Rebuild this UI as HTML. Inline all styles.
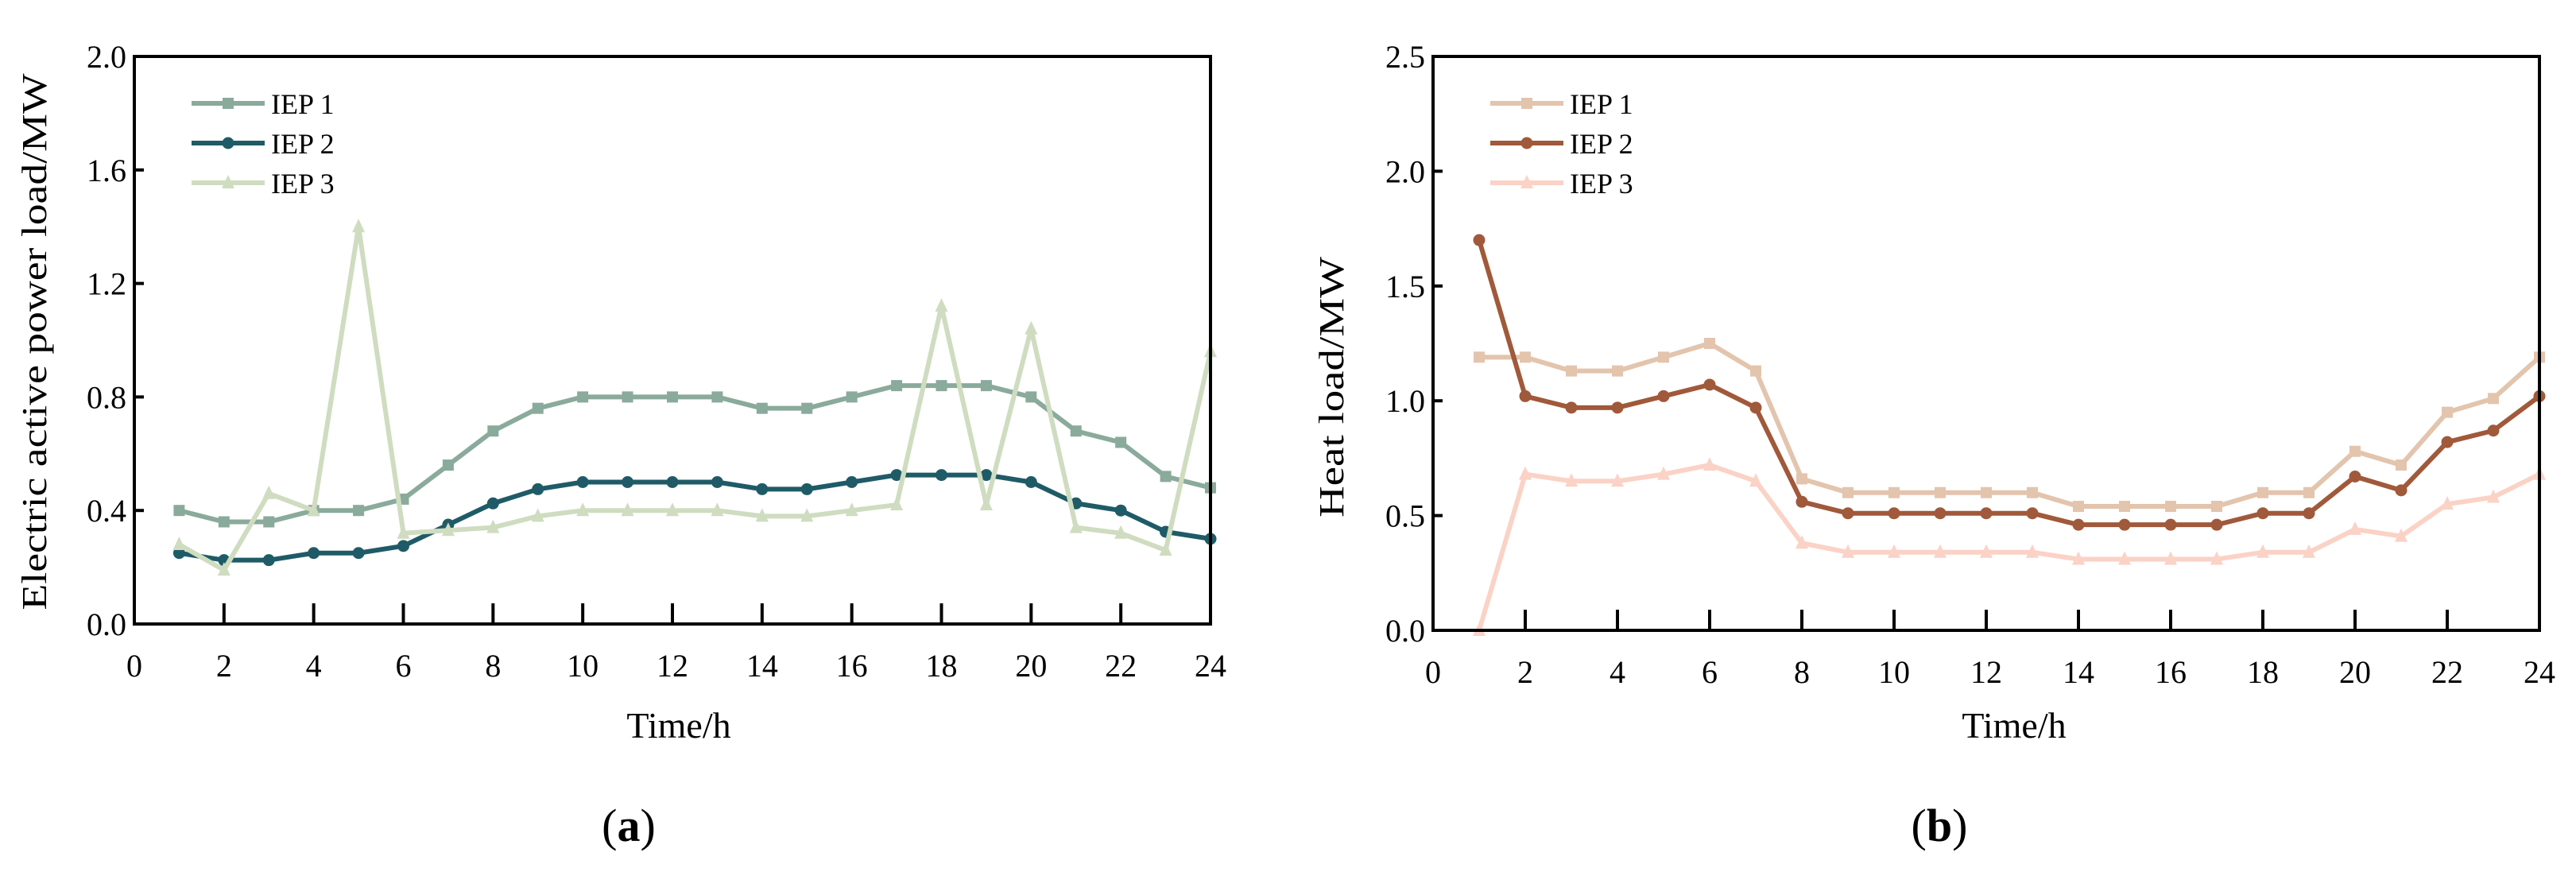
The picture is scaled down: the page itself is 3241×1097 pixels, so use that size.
<!DOCTYPE html>
<html><head><meta charset="utf-8"><style>
html,body{margin:0;padding:0;background:#fff;}
svg{display:block;font-family:"Liberation Serif",serif;}
</style></head><body>
<svg id="fig" width="3241" height="1097" viewBox="0 0 3241 1097"></svg>
<script>
const hours = [1,2,3,4,5,6,7,8,9,10,11,12,13,14,15,16,17,18,19,20,21,22,23,24];
const xTicks = [0,2,4,6,8,10,12,14,16,18,20,22,24];
const elecTicks = ["0.0","0.4","0.8","1.2","1.6","2.0"];
const heatTicks = ["0.0","0.5","1.0","1.5","2.0","2.5"];
const elecIEP1 = [0.40,0.36,0.36,0.40,0.40,0.44,0.56,0.68,0.76,0.80,0.80,0.80,0.80,0.76,0.76,0.80,0.84,0.84,0.84,0.80,0.68,0.64,0.52,0.48];
const elecIEP2 = [0.25,0.225,0.225,0.25,0.25,0.275,0.35,0.425,0.475,0.50,0.50,0.50,0.50,0.475,0.475,0.50,0.525,0.525,0.525,0.50,0.425,0.40,0.325,0.30];
const elecIEP3 = [0.28,0.19,0.46,0.40,1.40,0.32,0.33,0.34,0.38,0.40,0.40,0.40,0.40,0.38,0.38,0.40,0.42,1.12,0.42,1.04,0.34,0.32,0.26,0.96];
const heatIEP1 = [1.19,1.19,1.13,1.13,1.19,1.25,1.13,0.66,0.60,0.60,0.60,0.60,0.60,0.54,0.54,0.54,0.54,0.60,0.60,0.78,0.72,0.95,1.01,1.19];
const heatIEP2 = [1.70,1.02,0.97,0.97,1.02,1.07,0.97,0.56,0.51,0.51,0.51,0.51,0.51,0.46,0.46,0.46,0.46,0.51,0.51,0.67,0.61,0.82,0.87,1.02];
const heatIEP3 = [0.00,0.68,0.65,0.65,0.68,0.72,0.65,0.38,0.34,0.34,0.34,0.34,0.34,0.31,0.31,0.31,0.31,0.34,0.34,0.44,0.41,0.55,0.58,0.68];
const seriesNames = ["IEP 1","IEP 2","IEP 3"];

const NS = "http://www.w3.org/2000/svg";
const svg = document.getElementById("fig");
function mk(tag, attrs, parent, text){
  const e = document.createElementNS(NS, tag);
  for (const k in attrs) e.setAttribute(k, attrs[k]);
  if (text !== undefined) e.textContent = text;
  (parent||svg).appendChild(e);
  return e;
}
function marker(g, type, x, y, color){
  let m;
  if (type === "square") m = mk("rect", {x:x-7, y:y-7, width:14, height:14, fill:color}, g);
  else if (type === "circle") m = mk("circle", {cx:x, cy:y, r:7.5, fill:color}, g);
  else m = mk("polygon", {points:`${x},${y-10} ${x-8},${y+7} ${x+8},${y+7}`, fill:color}, g);
  return m;
}
function chart(cfg){
  const g = mk("g", {});
  
  
  const L=cfg.L, R=cfg.R, T=cfg.T, B=cfg.B, ymax=cfg.ymax;
  const sx = v => L + (v/24)*(R-L);
  const sy = v => B - (v/ymax)*(B-T);
  // series
  cfg.series.forEach((s, i) => {
    const sg = mk("g", {}, g);
    
    
    const pts = s.data.map((v, j) => sx(hours[j]) + "," + sy(v)).join(" ");
    const pl = mk("polyline", {points:pts, fill:"none", stroke:s.color, "stroke-width":6, "stroke-linejoin":"round"}, sg);
    
    
    s.data.forEach((v, j) => {
      const m = marker(sg, s.marker, sx(hours[j]), sy(v), s.color);
      
      
    });
  });
  // frame
  const fr = mk("rect", {x:L, y:T, width:R-L, height:B-T, fill:"none", stroke:"#000", "stroke-width":4}, g);
  
  
  // x ticks
  xTicks.forEach(t => {
    const x = sx(t);
    if (t>0 && t<24) {
      const tk = mk("line", {x1:x, x2:x, y1:B, y2:B-26, stroke:"#000", "stroke-width":4}, g);
      
      
    }
    const lb = mk("text", {x:x, y:B+66, "text-anchor":"middle", "font-size":40}, g, String(t));
    
    
  });
  // y ticks
  cfg.yTicks.forEach((t, i) => {
    const v = i*ymax/(cfg.yTicks.length-1);
    const y = sy(v);
    if (i>0 && i<cfg.yTicks.length-1) {
      const tk = mk("line", {x1:L, x2:L+12, y1:y, y2:y, stroke:"#000", "stroke-width":4}, g);
      
      
    }
    const lb = mk("text", {x:L-10, y:y+14, "text-anchor":"end", "font-size":40}, g, t);
    
    
  });
  // titles
  const xt = mk("text", {x:cfg.xtX, y:928, "text-anchor":"middle", "font-size":46}, g, "Time/h");
  
  
  const yt = mk("text", {x:0, y:0, "text-anchor":"middle", "font-size":44, textLength:cfg.ytLen, lengthAdjust:"spacingAndGlyphs",
    transform:`translate(${cfg.ytX},${cfg.ytY}) rotate(-90)`}, g, cfg.ytitle);
  
  
  const pl = mk("text", {x:cfg.plX, y:1058, "text-anchor":"middle", "font-size":58}, g);
  
  
  mk("tspan", {}, pl, "(");
  mk("tspan", {"font-weight":"bold"}, pl, cfg.panel);
  mk("tspan", {}, pl, ")");
  // legend
  const lg = mk("g", {}, g);
  
  
  cfg.series.forEach((s, i) => {
    const y = 130 + i*50;
    const e = mk("g", {}, lg);
    
    
    mk("line", {x1:L+72, x2:L+164, y1:y, y2:y, stroke:s.color, "stroke-width":6}, e);
    marker(e, s.marker, L+118, y, s.color);
    mk("text", {x:L+172, y:y+13, "font-size":36}, e, seriesNames[i]);
  });
}
chart({name:"chart-electric-load", panel:"a", L:169, R:1523, T:71, B:785, ymax:2.0, yTicks:elecTicks,
  ytitle:"Electric active power load/MW", ytX:58, ytY:430, ytLen:675, xtX:854, plX:791,
  series:[{data:elecIEP1,color:"#8aaa9c",marker:"square"},{data:elecIEP2,color:"#1f5b67",marker:"circle"},{data:elecIEP3,color:"#cfdcc0",marker:"triangle"}]});
chart({name:"chart-heat-load", panel:"b", L:1803, R:3195, T:71, B:793, ymax:2.5, yTicks:heatTicks,
  ytitle:"Heat load/MW", ytX:1690, ytY:487, ytLen:328, xtX:2534, plX:2440,
  series:[{data:heatIEP1,color:"#e3c4ad",marker:"square"},{data:heatIEP2,color:"#a0593a",marker:"circle"},{data:heatIEP3,color:"#fbd2c6",marker:"triangle"}]});
</script>
</body></html>
